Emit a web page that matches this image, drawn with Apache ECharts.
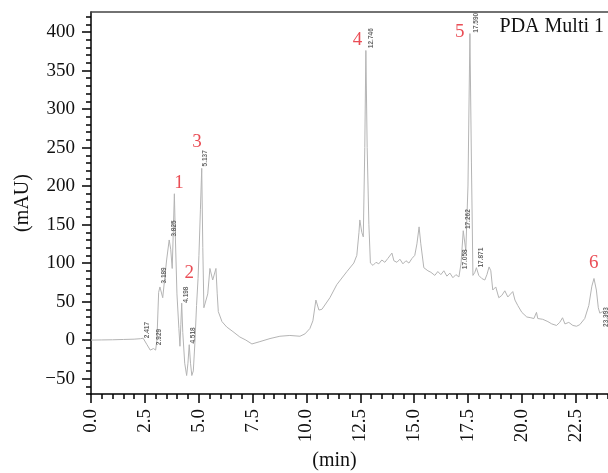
<!DOCTYPE html>
<html lang="en">
  <head>
    <meta charset="utf-8" />
    <title>PDA Multi 1</title>
    <script src="https://cdn.jsdelivr.net/npm/echarts@6/dist/echarts.min.js"></script>
  </head>
  <body style="margin:0; background:#fff;">
    <div id="main" style="width: 608px; height: 473px;"></div>
    <script type="text/javascript">
      // chromatogram trace (min, mAU)
      const times = [0, 0.5, 1.0, 1.5, 2.0, 2.3, 2.42, 2.5, 2.6, 2.75, 2.9, 3.0, 3.06, 3.14, 3.2, 3.33, 3.51, 3.63, 3.7, 3.77, 3.83, 3.87, 3.92, 3.99, 4.08, 4.13, 4.17, 4.21, 4.26, 4.35, 4.44, 4.50, 4.56, 4.62, 4.68, 4.75, 4.82, 4.90, 4.97, 5.01, 5.08, 5.14, 5.19, 5.24, 5.31, 5.42, 5.52, 5.65, 5.80, 5.86, 5.91, 6.08, 6.30, 6.59, 6.91, 7.19, 7.47, 7.84, 8.31, 8.77, 9.23, 9.70, 9.93, 10.16, 10.30, 10.44, 10.58, 10.72, 11.09, 11.41, 11.88, 12.20, 12.34, 12.44, 12.48, 12.57, 12.64, 12.71, 12.76, 12.82, 12.90, 12.97, 13.09, 13.23, 13.36, 13.50, 13.64, 13.78, 13.87, 13.97, 14.06, 14.20, 14.34, 14.48, 14.62, 14.76, 14.90, 15.03, 15.13, 15.23, 15.31, 15.45, 15.64, 15.78, 15.96, 16.10, 16.24, 16.38, 16.52, 16.66, 16.80, 16.94, 17.08, 17.18, 17.28, 17.40, 17.50, 17.59, 17.66, 17.73, 17.82, 17.89, 18.0, 18.14, 18.28, 18.38, 18.48, 18.56, 18.65, 18.79, 18.93, 19.07, 19.21, 19.35, 19.44, 19.58, 19.68, 19.81, 20.0, 20.23, 20.42, 20.56, 20.68, 20.74, 20.97, 21.21, 21.39, 21.61, 21.76, 21.89, 22.0, 22.18, 22.37, 22.54, 22.69, 22.92, 23.11, 23.25, 23.35, 23.46, 23.55, 23.62, 23.76, 23.90, 24.0];
      const mAU = [0, 0.2, 0.4, 0.8, 1.2, 1.8, 2.5, 1, -6, -13, -11, -13, 0, 62, 69, 55, 104, 130, 118, 93, 150, 190, 130, 60, 15, -8, 20, 48, 10, -30, -46, -30, -6, -30, -46, -40, -5, 45, 80, 110, 170, 223, 120, 42, 40, 60, 93, 78, 93, 60, 37, 24, 17, 11, 4, 0, -5, -2, 2, 5, 6, 5, 8, 15, 25, 52, 39, 40, 55, 72, 89, 100, 110, 140, 156, 140, 134, 250, 376, 250, 150, 100, 97, 101, 99, 104, 101, 106, 104, 113, 103, 101, 105, 99, 103, 100, 106, 110, 125, 147, 125, 94, 90, 88, 84, 89, 85, 90, 83, 87, 81, 85, 82, 100, 142, 116, 200, 398, 230, 84, 88, 94, 84, 80, 78, 85, 95, 90, 65, 69, 55, 58, 64, 56, 57, 63, 52, 45, 36, 30, 29, 28, 36, 28, 27, 24, 21, 19, 23, 29, 21, 23, 19, 18, 20, 28, 45, 70, 80, 65, 42, 35, 37, 32, 30];

      // retention time tags printed by the instrument
      const rtText = ['2.417', '2.929', '3.189', '3.825', '4.198', '4.518', '5.137', '12.746', '17.058', '17.262', '17.590', '17.871', '23.393'];
      const rtAt = [2.63, 3.17, 3.40, 3.87, 4.44, 4.75, 5.32, 12.99, 17.35, 17.51, 17.90, 18.13, 23.93];
      const rtLevel = [13, 4, 84, 145, 59, 6, 236, 392, 105, 157, 412, 107, 30];

      // red peak numbers
      const peakNo = ['1', '2', '3', '4', '5', '6'];
      const peakAt = [4.08, 4.56, 4.92, 12.37, 17.12, 23.34];
      const peakLevel = [204, 87, 257, 390, 400, 100];

      const xTicks = [0, 2.5, 5, 7.5, 10, 12.5, 15, 17.5, 20, 22.5];
      const yTicks = [-50, 0, 50, 100, 150, 200, 250, 300, 350, 400];
      const xMinor = [];
      for (let v = 0; v <= 24; v += 0.5) xMinor.push(v);
      const yMinor = [];
      for (let v = -70; v <= 420; v += 10) yMinor.push(v);

      const serif = 'Liberation Serif, DejaVu Serif, serif';
      const myChart = echarts.init(document.getElementById('main'));

      const trace = times.map((t, i) => [t, mAU[i]]);
      const rtData = rtText.map((s, i) => ({ value: [rtAt[i], rtLevel[i]], name: s }));
      const noData = peakNo.map((s, i) => ({ value: [peakAt[i], peakLevel[i]], name: s }));

      const option = {
        animation: false,
        backgroundColor: '#fff',
        grid: { left: 91, right: 0, top: 12, bottom: 79, outerBoundsMode: 'none', containLabel: false },
        xAxis: [
          {
            type: 'value', min: 0, max: 24, position: 'bottom',
            name: '(min)', nameLocation: 'middle', nameGap: 57,
            nameTextStyle: { fontFamily: serif, fontSize: 20, color: '#111', padding: [0, 30, 0, 0] },
            axisLine: { show: true, onZero: false, lineStyle: { color: '#000', width: 1.5 } },
            axisTick: { show: true, customValues: xTicks, length: 9, lineStyle: { color: '#000', width: 1.5 } },
            axisLabel: {
              customValues: xTicks, rotate: 90, margin: 15,
              fontFamily: serif, fontSize: 19, color: '#111',
              formatter: v => v.toFixed(1)
            },
            splitLine: { show: false }
          },
          {
            type: 'value', min: 0, max: 24, position: 'bottom',
            axisLine: { show: false, onZero: false },
            axisTick: { show: true, customValues: xMinor, length: 5, lineStyle: { color: '#000', width: 1.5 } },
            axisLabel: { show: false },
            splitLine: { show: false }
          },
          {
            type: 'value', min: 0, max: 24, position: 'top',
            axisLine: { show: true, onZero: false, lineStyle: { color: '#444', width: 1.5 } },
            axisTick: { show: false }, axisLabel: { show: false }, splitLine: { show: false }
          }
        ],
        yAxis: [
          {
            type: 'value', min: -70, max: 426, position: 'left',
            name: '(mAU)', nameLocation: 'middle', nameGap: 58,
            nameTextStyle: { fontFamily: serif, fontSize: 20, color: '#111' },
            axisLine: { show: true, onZero: false, lineStyle: { color: '#000', width: 1.5 } },
            axisTick: { show: true, customValues: yTicks, length: 9, lineStyle: { color: '#000', width: 1.5 } },
            axisLabel: {
              customValues: yTicks, margin: 16,
              fontFamily: serif, fontSize: 19, color: '#111',
              formatter: v => String(v).replace('-', '\u2212')
            },
            splitLine: { show: false }
          },
          {
            type: 'value', min: -70, max: 426, position: 'left',
            axisLine: { show: false, onZero: false },
            axisTick: { show: true, customValues: yMinor, length: 5, lineStyle: { color: '#000', width: 1.5 } },
            axisLabel: { show: false },
            splitLine: { show: false }
          }
        ],
        graphic: [
          {
            type: 'text', right: 4, top: 17,
            style: { text: 'PDA Multi 1', fontFamily: serif, fontSize: 20, fill: '#111' }
          }
        ],
        series: [
          {
            type: 'line', data: trace, showSymbol: false, symbol: 'none',
            lineStyle: { color: '#b4b4b4', width: 1 },
            z: 3
          },
          {
            type: 'scatter', data: rtData, symbolSize: 0, silent: true,
            label: {
              show: true, position: 'inside', rotate: 90,
              formatter: p => p.name,
              fontFamily: 'Liberation Sans, DejaVu Sans, sans-serif',
              fontSize: 6.5, fontWeight: 'bold', color: '#444'
            },
            z: 4
          },
          {
            type: 'scatter', data: noData, symbolSize: 0, silent: true,
            label: {
              show: true, position: 'inside',
              formatter: p => p.name,
              fontFamily: serif, fontSize: 19, color: '#e5202a'
            },
            z: 5
          }
        ]
      };
      myChart.setOption(option);
    </script>
  </body>
</html>
